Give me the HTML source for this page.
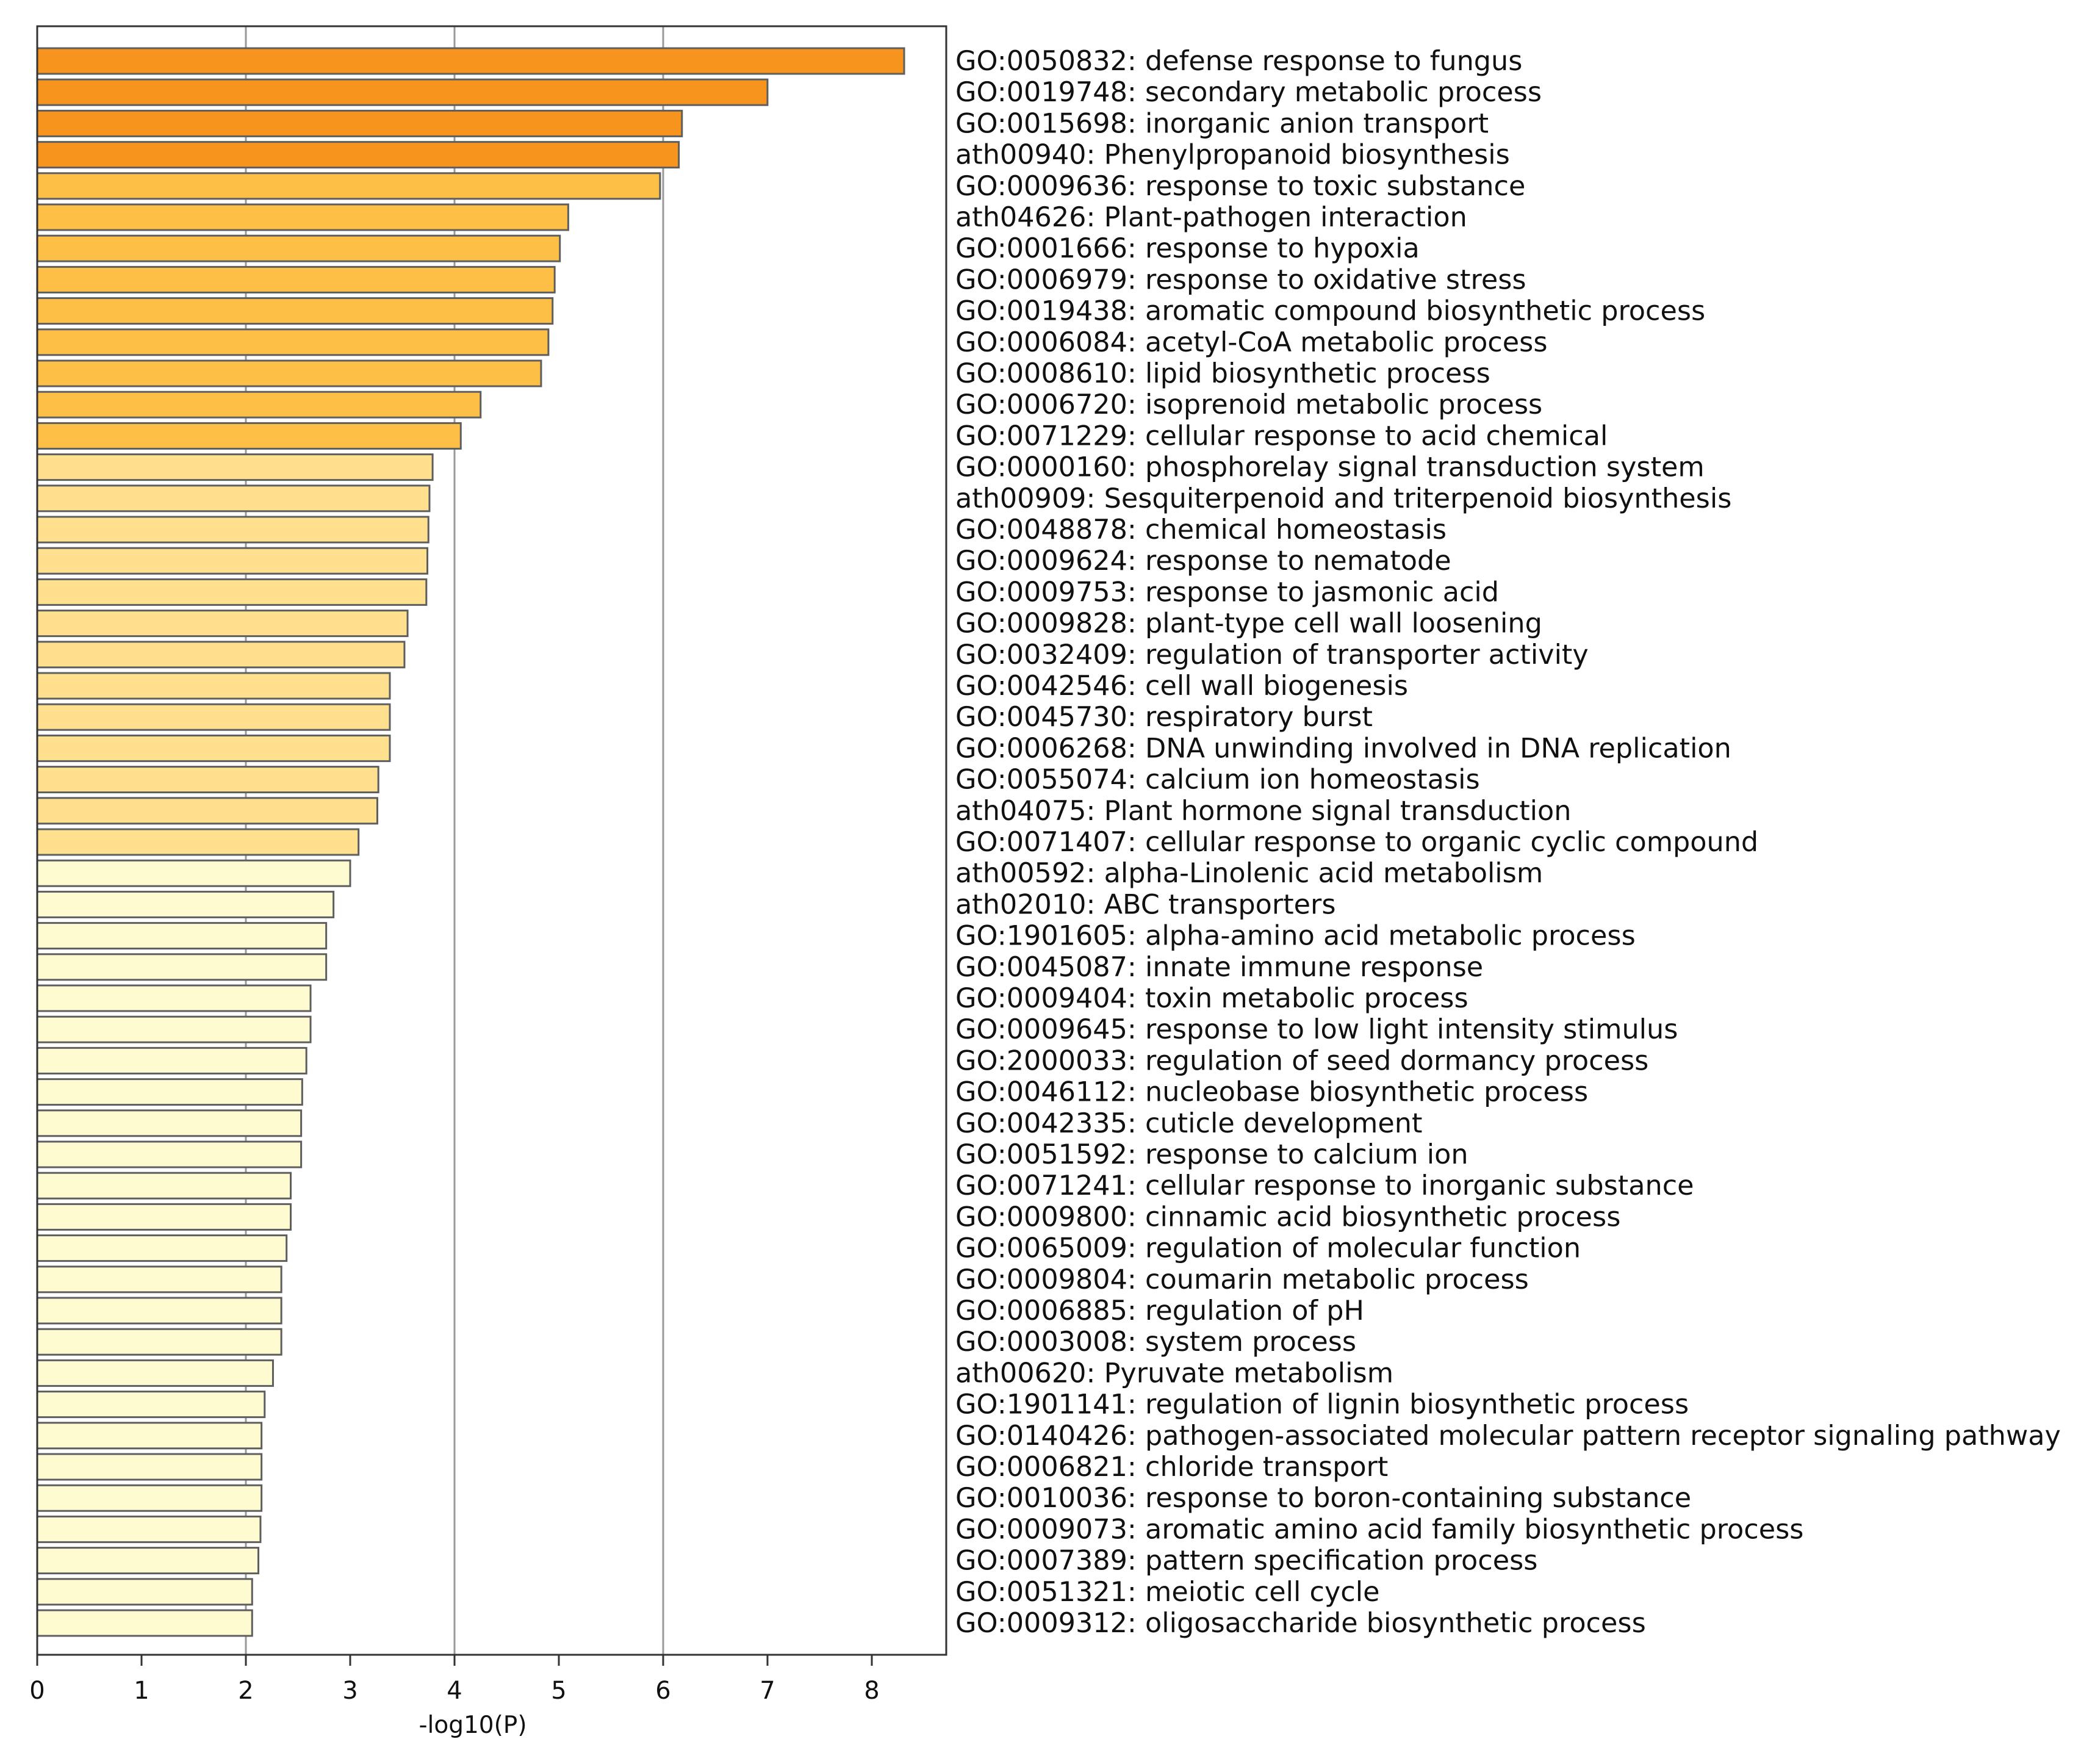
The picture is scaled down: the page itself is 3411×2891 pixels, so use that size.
<!DOCTYPE html>
<html><head><meta charset="utf-8"><style>
html,body{margin:0;padding:0;background:#fff}
svg{display:block}
</style></head><body>
<svg id="chart" xmlns="http://www.w3.org/2000/svg" width="3411" height="2891" viewBox="0 0 3411 2891" font-family="'DejaVu Sans','Liberation Sans',sans-serif">
<rect width="3411" height="2891" fill="#fff"/>
<g id="grid"></g>
<g id="bars"></g>
<rect x="61" y="43" width="1490" height="2669" fill="none" stroke="#333" stroke-width="3"/>
<g id="xticks"></g>
<g id="labels"></g>
<text x="775" y="2840" font-size="39" text-anchor="middle" fill="#111">-log10(P)</text>
</svg>
<script>
const categories = [
"GO:0050832: defense response to fungus",
"GO:0019748: secondary metabolic process",
"GO:0015698: inorganic anion transport",
"ath00940: Phenylpropanoid biosynthesis",
"GO:0009636: response to toxic substance",
"ath04626: Plant-pathogen interaction",
"GO:0001666: response to hypoxia",
"GO:0006979: response to oxidative stress",
"GO:0019438: aromatic compound biosynthetic process",
"GO:0006084: acetyl-CoA metabolic process",
"GO:0008610: lipid biosynthetic process",
"GO:0006720: isoprenoid metabolic process",
"GO:0071229: cellular response to acid chemical",
"GO:0000160: phosphorelay signal transduction system",
"ath00909: Sesquiterpenoid and triterpenoid biosynthesis",
"GO:0048878: chemical homeostasis",
"GO:0009624: response to nematode",
"GO:0009753: response to jasmonic acid",
"GO:0009828: plant-type cell wall loosening",
"GO:0032409: regulation of transporter activity",
"GO:0042546: cell wall biogenesis",
"GO:0045730: respiratory burst",
"GO:0006268: DNA unwinding involved in DNA replication",
"GO:0055074: calcium ion homeostasis",
"ath04075: Plant hormone signal transduction",
"GO:0071407: cellular response to organic cyclic compound",
"ath00592: alpha-Linolenic acid metabolism",
"ath02010: ABC transporters",
"GO:1901605: alpha-amino acid metabolic process",
"GO:0045087: innate immune response",
"GO:0009404: toxin metabolic process",
"GO:0009645: response to low light intensity stimulus",
"GO:2000033: regulation of seed dormancy process",
"GO:0046112: nucleobase biosynthetic process",
"GO:0042335: cuticle development",
"GO:0051592: response to calcium ion",
"GO:0071241: cellular response to inorganic substance",
"GO:0009800: cinnamic acid biosynthetic process",
"GO:0065009: regulation of molecular function",
"GO:0009804: coumarin metabolic process",
"GO:0006885: regulation of pH",
"GO:0003008: system process",
"ath00620: Pyruvate metabolism",
"GO:1901141: regulation of lignin biosynthetic process",
"GO:0140426: pathogen-associated molecular pattern receptor signaling pathway",
"GO:0006821: chloride transport",
"GO:0010036: response to boron-containing substance",
"GO:0009073: aromatic amino acid family biosynthetic process",
"GO:0007389: pattern specification process",
"GO:0051321: meiotic cell cycle",
"GO:0009312: oligosaccharide biosynthetic process"
];
const values = [8.31,7.0,6.18,6.15,5.97,5.09,5.01,4.96,4.94,4.90,4.83,4.25,4.06,3.79,3.76,3.75,3.74,3.73,3.55,3.52,3.38,3.38,3.38,3.27,3.26,3.08,3.00,2.84,2.77,2.77,2.62,2.62,2.58,2.54,2.53,2.53,2.43,2.43,2.39,2.34,2.34,2.34,2.26,2.18,2.15,2.15,2.15,2.14,2.12,2.06,2.06];
const colorGroups = [0,0,0,0,1,1,1,1,1,1,1,1,1,2,2,2,2,2,2,2,2,2,2,2,2,2,3,3,3,3,3,3,3,3,3,3,3,3,3,3,3,3,3,3,3,3,3,3,3,3,3];
const ticks = [0,1,2,3,4,5,6,7,8];
const gridTicks = [2,4,6];

const palette = ["#f7941d","#fdbf45","#fee08f","#fffbd0"];
const NS = "http://www.w3.org/2000/svg";
const x0 = 61, xUnit = 171;
function xs(v){ return x0 + v*xUnit; }
const yFirst = 100, yStep = 51.2, barH = 42;
function ys(i){ return yFirst + i*yStep; }

function mk(tag, attrs, parent){
  const e = document.createElementNS(NS, tag);
  for (const k in attrs) e.setAttribute(k, attrs[k]);
  parent.appendChild(e);
  return e;
}
const grid = document.getElementById('grid');
gridTicks.forEach(t=>{
  const l = mk('line',{x1:xs(t),x2:xs(t),y1:43,y2:2712,stroke:'#999','stroke-width':3},grid);
  
  
});
const bars = document.getElementById('bars');
const labels = document.getElementById('labels');
values.forEach((v,i)=>{
  const r = mk('rect',{x:x0,y:ys(i)-barH/2,width:xs(v)-x0,height:barH,fill:palette[colorGroups[i]],stroke:'#5e5e5e','stroke-width':3},bars);
  
  
  const t = mk('text',{x:1566,y:ys(i)+15,'font-size':44.5,fill:'#111'},labels);
  t.textContent = categories[i];
  
  
});
const xt = document.getElementById('xticks');
ticks.forEach(t=>{
  const l = mk('line',{x1:xs(t),x2:xs(t),y1:2712,y2:2730,stroke:'#333','stroke-width':3},xt);
  
  
  const tx = mk('text',{x:xs(t),y:2784,'font-size':40,'text-anchor':'middle',fill:'#111'},xt);
  tx.textContent = t;
  
  
});
</script>
</body></html>
